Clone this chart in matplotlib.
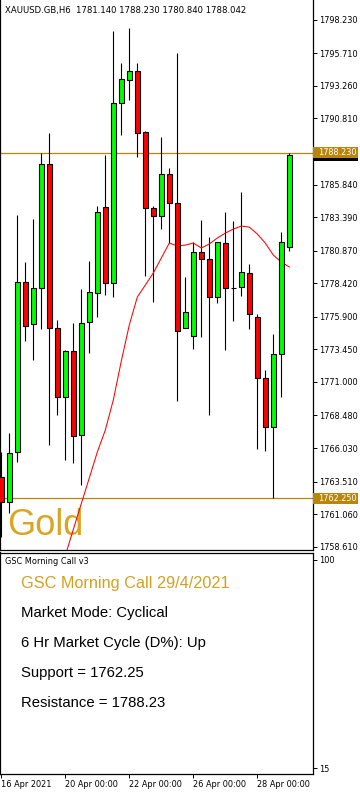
import numpy as np
import matplotlib
matplotlib.use("Agg")
import matplotlib.pyplot as plt
from matplotlib.patches import Rectangle
from matplotlib.transforms import blended_transform_factory

# XAUUSD H6 candles, 16 Apr 2021 -> 29 Apr 2021
opens = [1763.85, 1761.97, 1765.73, 1778.51, 1775.35, 1778.06, 1787.38, 1775.05, 1769.87, 1773.32,
         1767.01, 1775.50, 1777.68, 1784.15, 1778.43, 1791.97, 1793.69, 1794.37, 1789.79, 1784.07,
         1783.47, 1786.63, 1784.45, 1775.05, 1774.45, 1780.77, 1780.24, 1777.38, 1781.44, 1778.06,
         1778.13, 1779.19, 1775.88, 1771.29, 1767.61, 1773.10, 1781.14]
highs = [1765.73, 1767.16, 1783.55, 1780.01, 1783.25, 1788.21, 1789.71, 1775.65, 1773.40, 1775.43,
         1777.98, 1780.09, 1784.22, 1788.06, 1797.38, 1794.97, 1797.60, 1794.97, 1789.86, 1784.22,
         1789.41, 1787.08, 1795.72, 1778.89, 1781.52, 1783.17, 1781.89, 1781.52, 1783.77, 1783.10,
         1785.28, 1779.86, 1776.11, 1771.89, 1774.60, 1782.27, 1788.23]
lows = [1759.34, 1761.15, 1764.98, 1774.08, 1772.65, 1774.98, 1766.26, 1768.51, 1765.13, 1764.90,
        1763.25, 1773.17, 1775.88, 1777.53, 1777.38, 1789.56, 1792.19, 1787.91, 1778.96, 1777.01,
        1782.49, 1781.44, 1769.57, 1775.05, 1773.47, 1774.38, 1768.51, 1776.93, 1773.40, 1775.58,
        1777.46, 1774.98, 1765.96, 1765.81, 1762.25, 1769.87, 1780.84]
closes = [1761.97, 1765.66, 1778.51, 1775.20, 1778.06, 1787.38, 1775.05, 1769.87, 1773.32, 1766.93,
          1775.43, 1777.76, 1783.77, 1778.43, 1791.97, 1793.77, 1794.37, 1789.71, 1784.07, 1783.47,
          1786.63, 1784.45, 1774.83, 1776.26, 1780.77, 1780.24, 1777.38, 1781.52, 1778.06, 1778.08,
          1779.26, 1776.11, 1771.29, 1767.61, 1773.10, 1781.52, 1788.04]
nan = np.nan
ma = [nan, nan, nan, nan, nan, nan, nan, 1755.96, 1757.95, 1759.91,
      1761.86, 1763.78, 1765.73, 1767.38, 1769.64, 1772.57, 1775.28, 1777.38, 1778.28, 1779.19,
      1780.31, 1781.44, 1781.22, 1781.29, 1781.44, 1781.07, 1781.37, 1781.82, 1782.19, 1782.49,
      1782.72, 1782.64, 1782.12, 1781.44, 1780.54, 1780.01, 1779.64]

support = 1762.25
resistance = 1788.23
bid = 1788.042

price_ticks = [1798.230, 1795.710, 1793.260, 1790.810, 1785.840, 1783.390, 1780.870, 1778.420,
               1775.900, 1773.450, 1771.000, 1768.480, 1766.030, 1763.510, 1761.060, 1758.610]
date_pos = [0, 8, 16, 24, 32]
date_labels = ["16 Apr 2021", "20 Apr 00:00", "22 Apr 00:00", "26 Apr 00:00", "28 Apr 00:00"]

W, H = 360, 793
small = 5.9
gold_line = "#B8860B"
gold_text = "#D4A020"


def frac(x0, y0, x1, y1):
    return [x0 / W, 1 - y1 / H, (x1 - x0) / W, (y1 - y0) / H]


fig = plt.figure(figsize=(W / 100, H / 100), dpi=100)
ax = fig.add_axes(frac(0, 0, 312.5, 550))
sub = fig.add_axes(frac(0, 553, 312.5, 774))

# main chart
x = np.arange(len(opens))
o = np.array(opens)
c = np.array(closes)
colors = ["#00FF00" if cc >= oo else "#FF0000" for oo, cc in zip(o, c)]
body_h = np.maximum(np.abs(c - o), 0.03)
ax.vlines(x, lows, highs, color="black", lw=0.8, zorder=2)
ax.bar(x, body_h, bottom=np.minimum(o, c), width=0.58, color=colors,
       edgecolor="black", linewidth=0.8, zorder=3)
ax.plot(x, ma, color="#FF0000", lw=0.75, zorder=2.5)
ax.axhline(resistance, color=gold_line, lw=0.9, zorder=1.5)
ax.axhline(support, color=gold_line, lw=0.9, zorder=1.5)

ax.set_xlim(-0.1625, 38.9)
ax.set_ylim(1758.37, 1799.71)
ax.set_xticks([])
ax.yaxis.tick_right()
ax.set_yticks(price_ticks)
ax.set_yticklabels([f"{v:.3f}" for v in price_ticks])
ax.tick_params(axis="y", labelsize=small, length=3, width=0.7, pad=1.6)
ax.spines["top"].set_visible(False)
for s in ["left", "right", "bottom"]:
    ax.spines[s].set_linewidth(0.9)
ax.spines["left"].set_linewidth(1.6)

# price labels on the scale (bid label mostly hidden behind the resistance label)
tr = blended_transform_factory(ax.transAxes, ax.transData)
ax.add_patch(Rectangle((1.0016, bid - 0.41), 45 / 312.5, 0.82, transform=tr,
                       facecolor="black", edgecolor="none", clip_on=False, zorder=5))
for val, txt in [(resistance, "1788.230"), (support, "1762.250")]:
    ax.add_patch(Rectangle((1.0016, val - 0.41), 45 / 312.5, 0.82, transform=tr,
                           facecolor=gold_line, edgecolor="none", clip_on=False, zorder=6))
    ax.text(318 / 312.5, val, txt, transform=tr, ha="left", va="center", color="white",
            fontsize=small, clip_on=False, zorder=7)

ax.text(5 / 312.5, 1 - 10 / 550, "XAUUSD.GB,H6  1781.140 1788.230 1780.840 1788.042",
        transform=ax.transAxes, ha="left", va="center", fontsize=6.1)
ax.text(7 / 312.5, 1 - 535 / 550, "Gold", transform=ax.transAxes, ha="left", va="baseline",
        fontsize=26, color="#DAA520", family="Liberation Sans", zorder=1)

# indicator sub-window
sub.set_xlim(-0.1625, 38.9)
sub.set_ylim(12.55, 102.86)
sub.yaxis.tick_right()
sub.set_yticks([100, 15])
sub.set_yticklabels(["100", "15"])
sub.tick_params(axis="y", labelsize=small, length=3, width=0.7, pad=1.6)
sub.set_xticks(date_pos)
sub.set_xticklabels(date_labels)
sub.tick_params(axis="x", labelsize=small, length=3, width=0.7, pad=1.5)
for lbl in sub.get_xticklabels():
    lbl.set_ha("left")
for s in sub.spines.values():
    s.set_linewidth(0.9)
sub.spines["left"].set_linewidth(1.6)

sub.text(5 / 312.5, 1 - 9 / 221, "GSC Morning Call v3", transform=sub.transAxes,
         ha="left", va="center", fontsize=small)

lines = [("GSC Morning Call 29/4/2021", 588.3, gold_text, 11.7),
         ("Market Mode: Cyclical", 616.7, "black", 10.7),
         ("6 Hr Market Cycle (D%): Up", 646.7, "black", 10.7),
         ("Support = 1762.25", 676.7, "black", 10.7),
         ("Resistance = 1788.23", 706.7, "black", 10.7)]
for txt, yb, col, fs in lines:
    fig.text(21 / W, 1 - yb / H, txt, ha="left", va="baseline", color=col, fontsize=fs,
             family="Liberation Sans")

fig.savefig("out.png", dpi=100)
